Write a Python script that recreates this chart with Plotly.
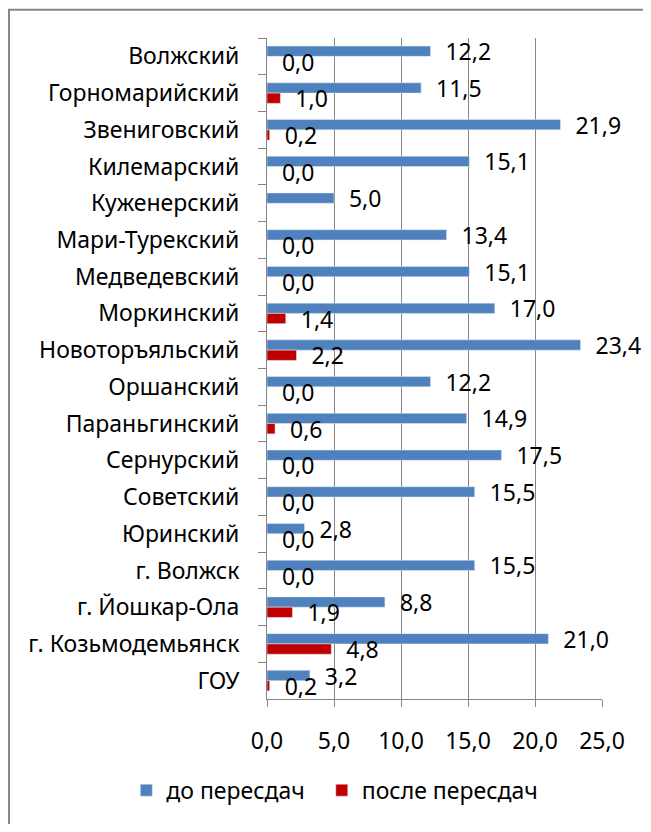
"""Horizontal grouped bar chart: results before and after retakes by district."""

import plotly.graph_objects as go

districts = [
    "Волжский", "Горномарийский", "Звениговский", "Килемарский", "Куженерский",
    "Мари-Турекский", "Медведевский", "Моркинский", "Новоторъяльский", "Оршанский",
    "Параньгинский", "Сернурский", "Советский", "Юринский", "г. Волжск",
    "г. Йошкар-Ола", "г. Козьмодемьянск", "ГОУ",
]
before = [12.2, 11.5, 21.9, 15.1, 5.0, 13.4, 15.1, 17.0, 23.4, 12.2,
          14.9, 17.5, 15.5, 2.8, 15.5, 8.8, 21.0, 3.2]
after = [0.0, 1.0, 0.2, 0.0, None, 0.0, 0.0, 1.4, 2.2, 0.0,
         0.6, 0.0, 0.0, 0.0, 0.0, 1.9, 4.8, 0.2]
x_ticks = [0, 5, 10, 15, 20, 25]

FONT = "Noto Sans"
GRID = "#868686"


def fmt(values):
    return ["" if v is None else "\u00a0\u00a0" + f"{v:.1f}".replace(".", ",") for v in values]


fig = go.Figure()
fig.add_trace(go.Bar(
    y=districts, x=before, orientation="h", name="до пересдач\u00a0\u00a0",
    marker_color="#4F81BD", text=fmt(before), textposition="outside",
    constraintext="none", cliponaxis=False,
))
fig.add_trace(go.Bar(
    y=districts, x=after, orientation="h", name="после пересдач",
    marker_color="#C00000", text=fmt(after), textposition="outside",
    constraintext="none", cliponaxis=False,
))

# page body adds 8px margin, so the figure is 16px smaller than the window
fig.update_layout(
    width=635,
    height=816,
    barmode="group",
    bargap=0.44,
    bargroupgap=0,
    separators=", ",
    paper_bgcolor="white",
    plot_bgcolor="white",
    font=dict(family=FONT, size=23, color="black"),
    margin=dict(l=259, r=41, t=30, b=118),
    showlegend=True,
    legend=dict(
        orientation="h", x=-0.42, y=-0.138, xanchor="left", yanchor="middle",
        font=dict(family=FONT, size=23), itemwidth=30,
    ),
    shapes=[dict(
        type="rect", xref="paper", yref="paper",
        x0=-0.77, x1=1.5, y0=-0.5, y1=1.0427,
        line=dict(color=GRID, width=2),
    )],
)
fig.update_xaxes(
    range=[0, 25], tickvals=x_ticks, tickformat=".1f",
    showgrid=True, gridcolor=GRID, gridwidth=1,
    showline=True, linecolor=GRID, linewidth=1,
    ticks="outside", ticklen=7, tickcolor=GRID, zeroline=False,
    ticklabelstandoff=14,
)
fig.update_yaxes(
    autorange="reversed", showgrid=False,
    showline=True, linecolor=GRID, linewidth=1,
    ticks="outside", ticklen=8, tickcolor=GRID, tickson="boundaries",
    ticklabelstandoff=22,
)

fig.write_html("out.html", config={"displayModeBar": False})
